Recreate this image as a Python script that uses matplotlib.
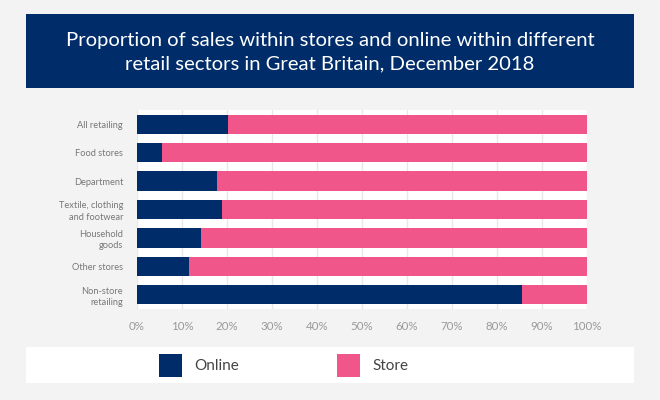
import matplotlib.pyplot as plt
from matplotlib.patches import Rectangle
from matplotlib.ticker import FuncFormatter

sectors = ["All retailing", "Food stores", "Department", "Textile, clothing\nand footwear",
           "Household\ngoods", "Other stores", "Non-store\nretailing"]
online = [20.3, 5.6, 17.8, 18.9, 14.3, 11.6, 85.5]
store = [100 - v for v in online]

NAVY = "#002d6a"
PINK = "#f0568a"
BG = "#f3f3f3"

plt.rcParams["font.family"] = ["Lato", "DejaVu Sans"]

W, H = 660, 400
fig = plt.figure(figsize=(6.6, 4.0), dpi=100, facecolor=BG)


def fx(px):
    return px / W


def fy(py):
    return 1 - py / H


# title banner
fig.patches.append(Rectangle((fx(26), fy(88)), fx(634) - fx(26), fy(14) - fy(88),
                             transform=fig.transFigure, facecolor=NAVY, edgecolor="none"))
fig.text(0.5, fy(52), "Proportion of sales within stores and online within different\n"
         "retail sectors in Great Britain, December 2018",
         ha="center", va="center", color="white", fontsize=14.6, linespacing=1.45)

# legend strip
fig.patches.append(Rectangle((fx(26), fy(383)), fx(634) - fx(26), fy(347) - fy(383),
                             transform=fig.transFigure, facecolor="white", edgecolor="none"))
for x0, lab, col in [(159, "Online", NAVY), (337, "Store", PINK)]:
    fig.patches.append(Rectangle((fx(x0), fy(377)), fx(23), 23 / H,
                                 transform=fig.transFigure, facecolor=col, edgecolor="none"))
    fig.text(fx(x0 + 35), fy(366), lab, ha="left", va="center", color="#444444", fontsize=11)

ax = fig.add_axes([fx(137), fy(309), fx(587) - fx(137), fy(110) - fy(309)])
ax.set_facecolor("white")
y = list(range(len(sectors)))
ax.barh(y, online, height=0.68, color=NAVY, zorder=3)
ax.barh(y, store, left=online, height=0.68, color=PINK, zorder=3)
ax.set_ylim(len(sectors) - 0.5, -0.5)
ax.set_xlim(0, 100)
ax.set_xticks(range(0, 101, 10))
ax.xaxis.set_major_formatter(FuncFormatter(lambda v, p: f"{v:.0f}%"))
ax.set_yticks(y)
ax.set_yticklabels(sectors, fontsize=6.7, color="#777777", linespacing=1.3)
ax.tick_params(axis="x", labelsize=8.3, colors="#999999", length=0, pad=9)
ax.tick_params(axis="y", length=0, pad=10)
ax.grid(axis="x", color="#e8e8e8", linewidth=1, zorder=0)
for s in ax.spines.values():
    s.set_visible(False)

fig.savefig("out.png", dpi=100, facecolor=BG)
